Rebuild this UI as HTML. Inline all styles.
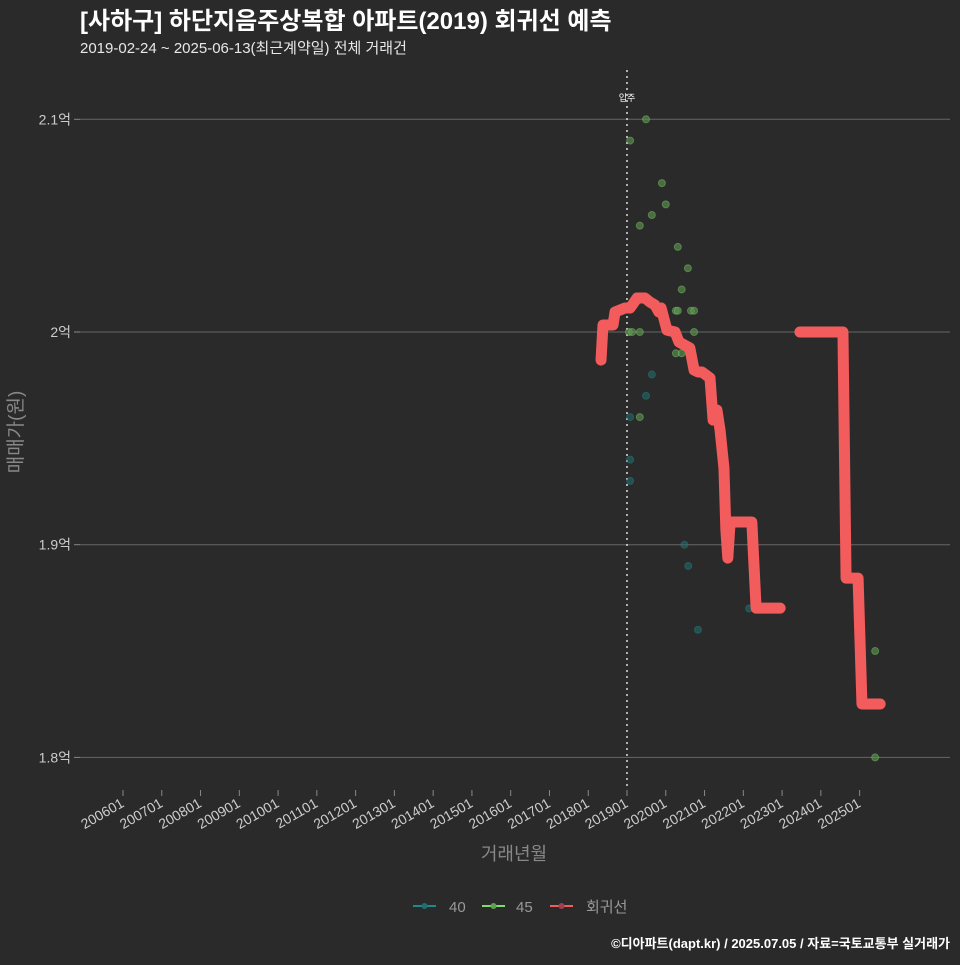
<!DOCTYPE html>
<html><head><meta charset="utf-8">
<style>
html,body{margin:0;padding:0;background:#2b2a2b;}
body{width:960px;height:960px;overflow:hidden;font-family:"Liberation Sans","Noto Sans CJK KR",sans-serif;}
</style></head>
<body>
<svg id="chart" width="960" height="960" viewBox="0 0 960 960" xmlns="http://www.w3.org/2000/svg" style="font-family:'Liberation Sans','Noto Sans CJK KR',sans-serif">
<rect width="960" height="960" fill="#2b2a2b"/>
<text x="80" y="29" fill="#ffffff" font-size="24" font-weight="bold">[사하구] 하단지음주상복합 아파트(2019) 회귀선 예측</text>
<text x="80" y="53" fill="#e8e8e8" font-size="15">2019-02-24 ~ 2025-06-13(최근계약일) 전체 거래건</text>
<g id="grid"></g>
<g id="yticks"></g>
<g id="xticks"></g>
<line x1="627" y1="70" x2="627" y2="790" stroke="#dddddd" stroke-width="1.5" stroke-dasharray="2,4"/>
<text x="627" y="101" fill="#ffffff" font-size="9" text-anchor="middle">입주</text>
<g id="pts"></g>
<g id="reg"></g>
<text transform="translate(22,432) rotate(-90)" fill="#888888" font-size="19" text-anchor="middle">매매가(원)</text>
<text x="514" y="860" fill="#888888" font-size="18" text-anchor="middle">거래년월</text>
<g>
 <g><line x1="413" y1="906" x2="436" y2="906" stroke="#1f8a8a" stroke-width="2"/><circle cx="424.5" cy="906" r="3" fill="#1f6f70"/><text x="449" y="912" fill="#999" font-size="15">40</text></g>
 <g><line x1="482" y1="906" x2="505" y2="906" stroke="#7fdc6a" stroke-width="2"/><circle cx="493.5" cy="906" r="3" fill="#5fa050"/><text x="516" y="912" fill="#999" font-size="15">45</text></g>
 <g><line x1="550" y1="906" x2="573" y2="906" stroke="#f25c5c" stroke-width="2"/><circle cx="561.5" cy="906" r="3" fill="#a04050"/><text x="586" y="912" fill="#999" font-size="15">회귀선</text></g>
</g>
<text x="950" y="948" fill="#ffffff" font-size="13" font-weight="bold" text-anchor="end">©디아파트(dapt.kr) / 2025.07.05 / 자료=국토교통부 실거래가</text>
</svg>
<script>
const yTicks=[1.8,1.9,2.0,2.1];
const yTickLabels=["1.8억","1.9억","2억","2.1억"];
const xTickLabels=["200601","200701","200801","200901","201001","201101","201201","201301","201401","201501","201601","201701","201801","201901","202001","202101","202201","202301","202401","202501"];
const xTickYears=[2006,2007,2008,2009,2010,2011,2012,2013,2014,2015,2016,2017,2018,2019,2020,2021,2022,2023,2024,2025];
const s40Dates=[2019.64,2019.49,2019.08,2019.08,2019.08,2020.48,2020.58,2022.15,2020.83];
const s40Values=[1.98,1.97,1.96,1.94,1.93,1.90,1.89,1.87,1.86];
const s45Dates=[2019.49,2019.08,2019.90,2020.00,2019.64,2019.33,2020.31,2020.57,2020.41,2020.26,2020.31,2020.65,2020.73,2019.05,2019.13,2019.33,2020.73,2020.26,2020.41,2019.33,2025.40,2025.40];
const s45Values=[2.10,2.09,2.07,2.06,2.055,2.05,2.04,2.03,2.02,2.01,2.01,2.01,2.01,2.00,2.00,2.00,2.00,1.99,1.99,1.96,1.85,1.80];
const regDatesA=[2018.33,2018.38,2018.64,2018.69,2018.95,2019.08,2019.26,2019.46,2019.59,2019.72,2019.82,2019.88,2020.03,2020.24,2020.34,2020.62,2020.73,2020.83,2020.93,2021.14,2021.22,2021.32,2021.40,2021.50,2021.55,2021.60,2021.66,2022.22,2022.33,2022.95];
const regValuesA=[1.9868,2.0033,2.0033,2.0094,2.0113,2.0113,2.0160,2.0160,2.0141,2.0127,2.0094,2.0113,2.0009,2.0000,1.9953,1.9925,1.9821,1.9812,1.9812,1.9784,1.9586,1.9633,1.9539,1.9361,1.9069,1.8937,1.9107,1.9107,1.8702,1.8702];
const regDatesB=[2023.46,2024.57,2024.65,2024.96,2025.06,2025.53];
const regValuesB=[2.0,2.0,1.8843,1.8843,1.8251,1.8251];

const NS="http://www.w3.org/2000/svg";
function xs(t){return 123+(t-2006)*38.77;}
function ys(v){return 332-(v-2.0)*2127;}
function mk(tag,attrs,parent){const e=document.createElementNS(NS,tag);for(const k in attrs)e.setAttribute(k,attrs[k]);parent.appendChild(e);return e;}

const grid=document.getElementById('grid'),yt=document.getElementById('yticks'),xt=document.getElementById('xticks');
yTicks.forEach((v,i)=>{
 const l=mk('line',{x1:80,x2:950,y1:ys(v),y2:ys(v),stroke:'#666666','stroke-width':1},grid);
 
 
 const tk=mk('line',{x1:74,x2:80,y1:ys(v),y2:ys(v),stroke:'#888','stroke-width':1},yt);
 
 
 const t=mk('text',{x:71,y:ys(v)+5,fill:'#cccccc','font-size':14,'text-anchor':'end'},yt);
 t.textContent=yTickLabels[i];
 
 
});
xTickYears.forEach((y,i)=>{
 const x=xs(y);
 const tk=mk('line',{x1:x,x2:x,y1:790,y2:796,stroke:'#888','stroke-width':1},xt);
 
 
 const t=mk('text',{x:x+2,y:806,fill:'#cccccc','font-size':14,'text-anchor':'end',transform:`rotate(-30 ${x+2} 806)`},xt);
 t.textContent=xTickLabels[i];
 
 
});
const pts=document.getElementById('pts');
s40Dates.forEach((d,i)=>{
 const c=mk('circle',{cx:xs(d),cy:ys(s40Values[i]),r:3.5,fill:'#1f6f70','fill-opacity':0.55,stroke:'#2a8a8a','stroke-opacity':0.4},pts);
 
 
});
s45Dates.forEach((d,i)=>{
 const c=mk('circle',{cx:xs(d),cy:ys(s45Values[i]),r:3.5,fill:'#5e9a50','fill-opacity':0.6,stroke:'#7fc86a','stroke-opacity':0.45},pts);
 
 
});
const reg=document.getElementById('reg');
[[regDatesA,regValuesA],[regDatesB,regValuesB]].forEach(([ds,vs])=>{
 const p=mk('polyline',{points:ds.map((d,i)=>xs(d)+','+ys(vs[i])).join(' '),fill:'none',stroke:'#f25c5c','stroke-width':11,'stroke-linecap':'round','stroke-linejoin':'round'},reg);
 
 
});
</script>
</body></html>
